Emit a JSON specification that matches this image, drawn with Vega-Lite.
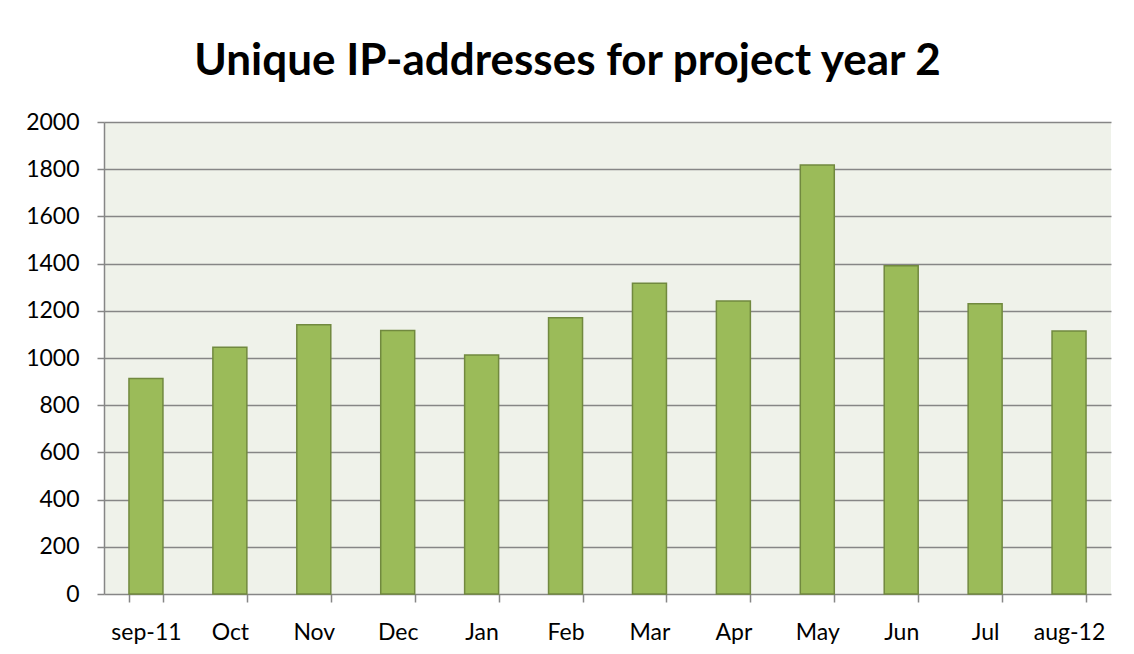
{
  "$schema": "https://vega.github.io/schema/vega-lite/v6.json",
  "autosize": {"type": "none"},
  "width": 1007,
  "height": 472,
  "padding": {"left": 104, "top": 122, "right": 23, "bottom": 60},
  "background": "white",
  "title": {
    "text": "Unique IP-addresses for project year 2",
    "font": "Lato",
    "fontSize": 44,
    "fontWeight": "bold",
    "color": "black",
    "anchor": "middle",
    "dx": -40,
    "offset": 27
  },
  "data": {
    "values": [
      {"month": "sep-11", "ips": 913},
      {"month": "Oct", "ips": 1046},
      {"month": "Nov", "ips": 1141},
      {"month": "Dec", "ips": 1117},
      {"month": "Jan", "ips": 1013},
      {"month": "Feb", "ips": 1171},
      {"month": "Mar", "ips": 1317},
      {"month": "Apr", "ips": 1241},
      {"month": "May", "ips": 1818},
      {"month": "Jun", "ips": 1391},
      {"month": "Jul", "ips": 1230},
      {"month": "aug-12", "ips": 1114}
    ]
  },
  "mark": {"type": "bar", "fill": "#9BBB59", "stroke": "#71893F", "strokeWidth": 1.5},
  "encoding": {
    "x": {
      "field": "month",
      "type": "nominal",
      "sort": null,
      "scale": {"paddingInner": 0.595, "paddingOuter": 0.2975},
      "axis": {
        "title": null,
        "labelAngle": 0,
        "tickBand": "extent",
        "tickSize": 8,
        "tickColor": "#868686",
        "tickWidth": 1.5,
        "domain": false,
        "labelPadding": 19,
        "labelFont": "Lato",
        "labelFontSize": 23,
        "labelColor": "black",
        "labelBaseline": "top"
      }
    },
    "y": {
      "field": "ips",
      "type": "quantitative",
      "scale": {"domain": [0, 2000], "nice": false},
      "axis": {
        "title": null,
        "format": "d",
        "values": [0, 200, 400, 600, 800, 1000, 1200, 1400, 1600, 1800, 2000],
        "grid": true,
        "gridColor": "#868686",
        "gridWidth": 1.5,
        "gridOpacity": 1,
        "domain": true,
        "domainColor": "#868686",
        "domainWidth": 1.5,
        "tickColor": "#868686",
        "tickWidth": 1.5,
        "tickSize": 7,
        "labelPadding": 18,
        "labelFont": "Lato",
        "labelFontSize": 23,
        "labelColor": "black"
      }
    }
  },
  "config": {
    "view": {"fill": "#EFF2EA", "stroke": null}
  }
}
